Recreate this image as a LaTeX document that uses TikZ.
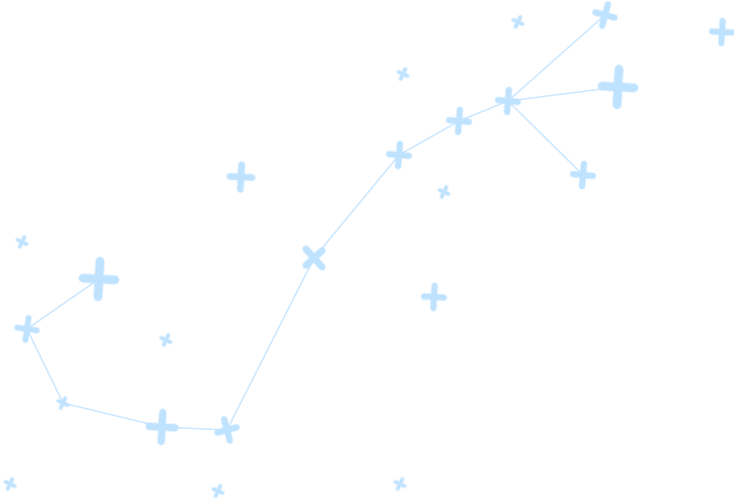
\documentclass[tikz,border=0pt]{standalone}
\definecolor{starblue}{HTML}{BFE2FF}
\definecolor{lineblue}{HTML}{CDE8FF}
\tikzset{
  starline/.style={draw=starblue, line cap=round},
  starglow/.style={draw=starblue, line cap=round, opacity=0.4},
  link/.style={draw=lineblue, line width=1.5pt}
}
\newcommand\placestar[5]{% name, position, half length, thickness, rotation
  \begin{scope}[shift={(#1)}, rotate=#5]
    \draw[starglow, line width=#4+2pt] (-#3,0) -- (#3,0) (0,-#3*1.12) -- (0,#3*1.12);
    \draw[starline, line width=#4] (-#3,0) -- (#3,0) (0,-#3*1.12) -- (0,#3*1.12);
  \end{scope}}
\begin{document}
\begin{tikzpicture}[x=1pt, y=-1pt]
\useasboundingbox (0,0) rectangle (734,502);
% constellation stars
\coordinate (a) at (27,329);
\coordinate (b) at (99,279);
\coordinate (c) at (63,403);
\coordinate (d) at (162,427);
\coordinate (e) at (227,430);
\coordinate (f) at (314,258);
\coordinate (g) at (399,155);
\coordinate (h) at (459,121);
\coordinate (i) at (508,101);
\coordinate (j) at (605,15);
\coordinate (k) at (618,87);
\coordinate (l) at (583,175);
% lone stars
\coordinate (s1) at (22,242);
\coordinate (s2) at (241,177);
\coordinate (s3) at (166,340);
\coordinate (s4) at (10,484);
\coordinate (s5) at (218,491);
\coordinate (s6) at (400,484);
\coordinate (s7) at (434,297);
\coordinate (s8) at (444,192);
\coordinate (s9) at (403,74);
\coordinate (s10) at (518,22);
\coordinate (s11) at (722,32);
% connectors
\draw[link] (b) -- (a) -- (c) -- (d) -- (e) -- (f) -- (g) -- (h) -- (i) -- (j);
\draw[link] (i) -- (k);
\draw[link] (i) -- (l);
% stars
\placestar{a}{}{10}{5pt}{-8}
\placestar{b}{}{16}{8pt}{-3}
\placestar{c}{}{5}{3pt}{-25}
\placestar{d}{}{13}{6.5pt}{-3}
\placestar{e}{}{10}{5.5pt}{15}
\placestar{f}{}{11}{6pt}{42}
\placestar{g}{}{10}{5.5pt}{-5}
\placestar{h}{}{10}{5.5pt}{-5}
\placestar{i}{}{10}{5.5pt}{-5}
\placestar{j}{}{10}{5.5pt}{-15}
\placestar{k}{}{16}{8pt}{-3}
\placestar{l}{}{10}{5.5pt}{-5}
\placestar{s1}{}{5}{3pt}{-25}
\placestar{s2}{}{11}{6pt}{-3}
\placestar{s3}{}{5}{3pt}{-25}
\placestar{s4}{}{5}{3pt}{-25}
\placestar{s5}{}{5}{3pt}{-25}
\placestar{s6}{}{5}{3pt}{-25}
\placestar{s7}{}{10}{5.5pt}{-3}
\placestar{s8}{}{5}{3pt}{-25}
\placestar{s9}{}{5}{3pt}{-25}
\placestar{s10}{}{5}{3pt}{-25}
\placestar{s11}{}{10}{5.5pt}{-3}
\end{tikzpicture}
\end{document}
